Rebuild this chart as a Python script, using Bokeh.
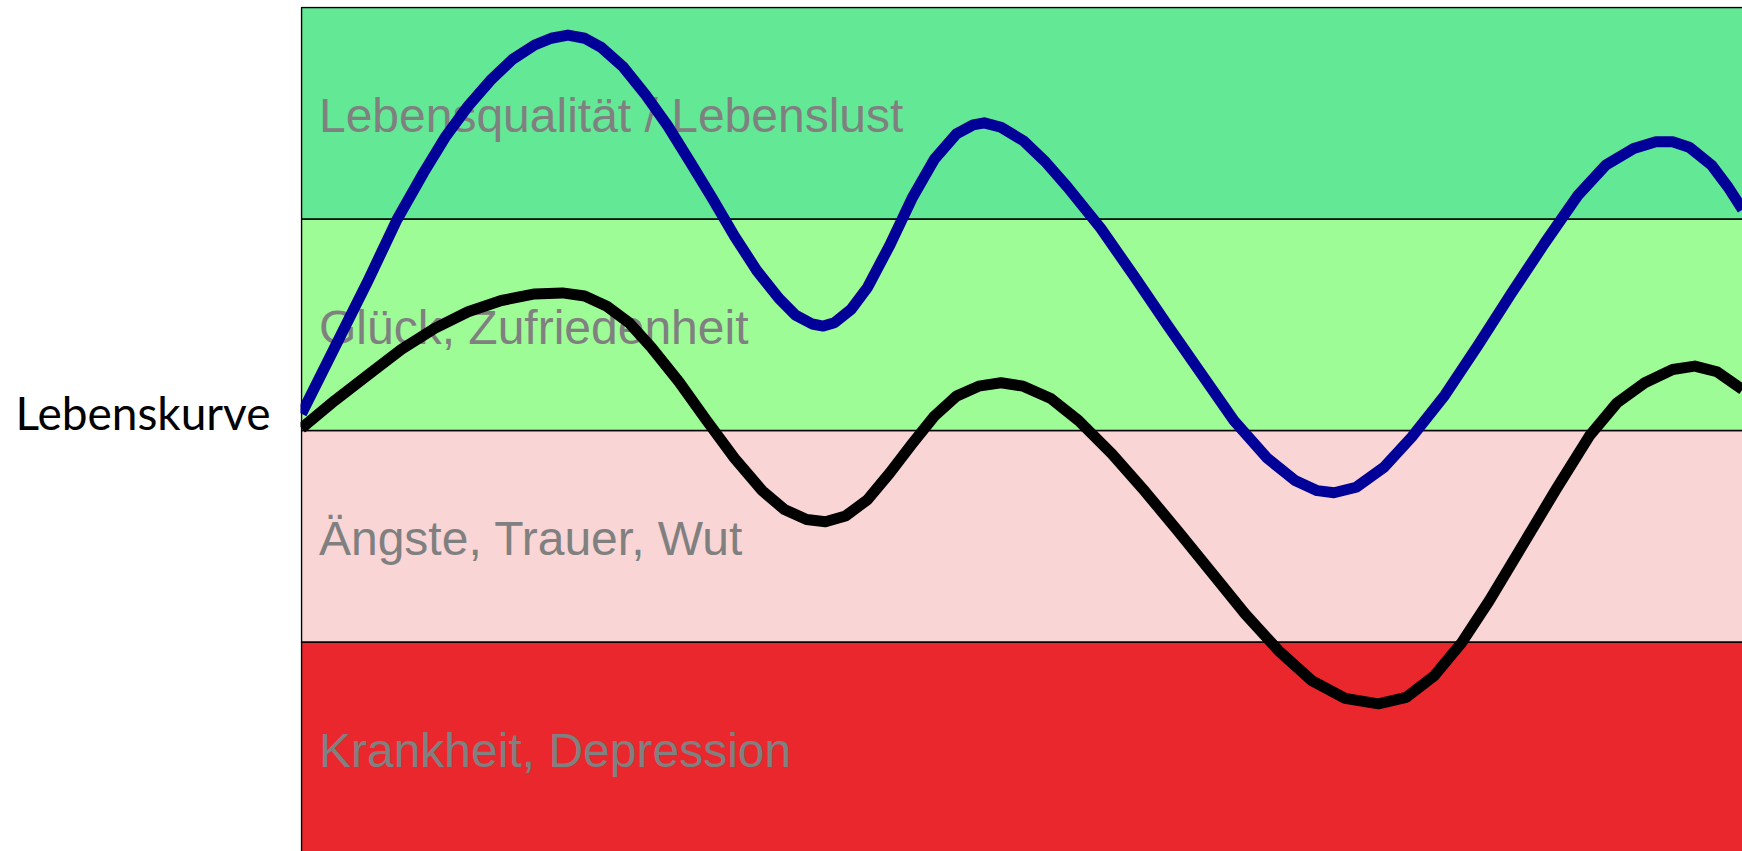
from bokeh.plotting import figure
from bokeh.models import FixedTicker, Range1d
from bokeh.core.properties import value
from bokeh.embed import file_html
from bokeh.resources import INLINE

# Bands (bottom -> top), in band units
band_names = ["Krankheit, Depression", "Ängste, Trauer, Wut", "Glück, Zufriedenheit", "Lebensqualität / Lebenslust"]
band_bottom = [-1.0, 1.0, 2.0, 3.0]
band_top = [1.0, 2.0, 3.0, 4.0]
band_colors = ["#EA272C", "#F9D6D5", "#9EFC96", "#63E996"]
band_label_y = [0.5, 1.5, 2.5, 3.5]

# Blue curve
blue_x = [0.00, 2.31, 4.62, 6.63, 8.47, 10.02, 11.56, 13.10, 14.64, 16.18,
          17.33, 18.49, 19.65, 20.80, 22.34, 23.88, 25.42, 26.96, 28.51, 30.05,
          31.59, 33.13, 34.28, 35.44, 36.21, 36.98, 38.14, 39.29, 40.83, 42.37,
          43.91, 45.45, 46.61, 47.38, 48.54, 50.08, 51.62, 53.16, 55.47, 57.78,
          60.09, 62.40, 64.71, 67.03, 68.95, 70.49, 71.65, 73.19, 75.12, 77.04,
          79.35, 81.66, 83.98, 86.29, 88.60, 90.52, 92.45, 93.99, 95.15, 96.30,
          97.84, 99.00, 100.0]
blue_y = [2.079, 2.394, 2.709, 2.998, 3.219, 3.392, 3.534, 3.655, 3.755, 3.823,
          3.855, 3.870, 3.855, 3.812, 3.718, 3.587, 3.440, 3.271, 3.098, 2.919,
          2.757, 2.625, 2.546, 2.504, 2.494, 2.510, 2.573, 2.678, 2.877, 3.098,
          3.282, 3.403, 3.445, 3.455, 3.434, 3.371, 3.271, 3.151, 2.956, 2.730,
          2.499, 2.273, 2.047, 1.869, 1.764, 1.716, 1.706, 1.732, 1.827, 1.969,
          2.168, 2.405, 2.651, 2.888, 3.114, 3.256, 3.334, 3.366, 3.366, 3.340,
          3.256, 3.151, 3.045]

# Black curve
black_x = [0.00, 2.31, 4.62, 6.93, 9.24, 11.56, 13.87, 16.18, 18.10, 19.65,
           21.19, 22.73, 24.27, 26.19, 28.12, 30.05, 31.97, 33.51, 35.05, 36.36,
           37.75, 39.29, 40.83, 42.37, 43.91, 45.45, 46.99, 48.54, 50.08, 52.00,
           53.93, 56.24, 58.55, 60.86, 63.17, 65.49, 67.80, 70.11, 72.42, 74.73,
           76.66, 78.58, 80.51, 82.43, 84.75, 87.06, 89.37, 91.29, 93.22, 95.15,
           96.69, 98.23, 100.0]
black_y = [2.011, 2.142, 2.263, 2.384, 2.483, 2.562, 2.615, 2.646, 2.651, 2.636,
           2.588, 2.510, 2.394, 2.231, 2.047, 1.869, 1.716, 1.627, 1.580, 1.569,
           1.596, 1.674, 1.800, 1.937, 2.068, 2.163, 2.210, 2.226, 2.210, 2.152,
           2.047, 1.890, 1.711, 1.522, 1.328, 1.133, 0.960, 0.818, 0.734, 0.708,
           0.739, 0.839, 0.997, 1.196, 1.459, 1.722, 1.974, 2.131, 2.226, 2.289,
           2.305, 2.278, 2.194]

curve_label = "Lebenskurve"
curve_label_y = 2.085

p = figure(width=1742, height=851, output_backend="svg", toolbar_location=None,
           x_range=Range1d(-0.07, 100), y_range=Range1d(0.010, 4.005),
           x_axis_location=None, y_axis_location="left",
           min_border_left=300, min_border_right=0, min_border_top=6, min_border_bottom=0)
p.outline_line_color = None
p.xgrid.visible = False
p.ygrid.visible = False
p.background_fill_color = "white"

ax = p.yaxis[0]
ax.ticker = FixedTicker(ticks=[curve_label_y])
ax.major_label_overrides = {curve_label_y: curve_label}
ax.axis_line_color = None
ax.major_tick_line_color = None
ax.minor_tick_line_color = None
ax.major_tick_out = 0
ax.major_label_standoff = 30
ax.major_label_text_font = "Lato"
ax.major_label_text_font_size = "46px"
ax.major_label_text_color = "black"

p.quad(left=[0] * 4, right=[120] * 4, bottom=band_bottom, top=band_top,
       fill_color=band_colors, line_color="black", line_width=1.5)

p.text(x=[1.21] * 4, y=band_label_y, text=band_names, text_font=value("Liberation Sans"),
       text_font_size="48px", text_color="#808080", text_baseline="middle", y_offset=2.5)

p.line(blue_x, blue_y, line_color="#000099", line_width=11, line_join="round", line_cap="butt")
p.line(black_x, black_y, line_color="black", line_width=11, line_join="round", line_cap="butt")

open("out.html", "w").write(file_html(p, INLINE))
